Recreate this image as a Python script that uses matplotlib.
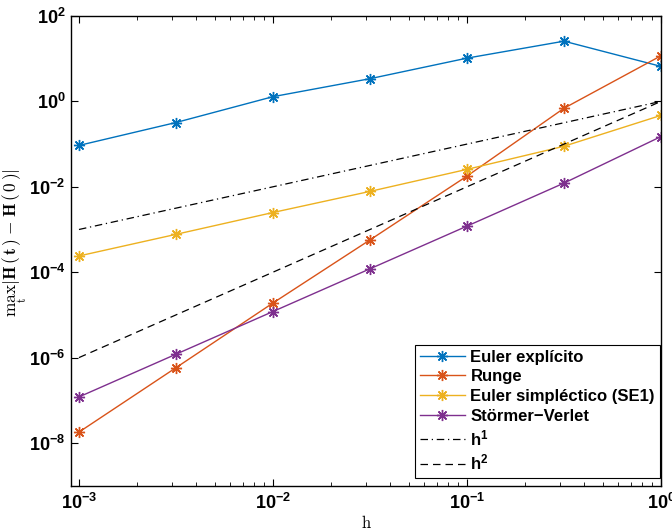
import numpy as np
import matplotlib
matplotlib.use("Agg")
import matplotlib.pyplot as plt
from matplotlib.ticker import FixedLocator, FuncFormatter, LogLocator, NullLocator

# -----------------------
# Data
# -----------------------
h = [1e-3, 10**-2.5, 1e-2, 10**-1.5, 1e-1, 10**-0.5, 1.0]

euler_exp = [0.093, 0.32, 1.29, 3.4, 10.3, 25.7, 6.6]
runge     = [1.8e-8, 5.8e-7, 1.9e-5, 5.7e-4, 0.0178, 0.69, 11.7]
euler_se1 = [2.4e-4, 7.7e-4, 2.5e-3, 7.8e-3, 0.0256, 0.089, 0.47]
stormer   = [1.2e-7, 1.2e-6, 1.2e-5, 1.2e-4, 1.2e-3, 0.0122, 0.15]

ref_h = [1e-3, 1.0]
ref_h1 = [1e-3, 1.0]
ref_h2 = [1e-6, 1.0]

labels = ["Euler explícito", "Runge", "Euler simpléctico (SE1)", "Störmer−Verlet"]
colors = ["#0072BD", "#D95319", "#EDB120", "#7E2F8E"]

x_ticks = [1e-3, 1e-2, 1e-1, 1e0]
y_ticks = [1e-8, 1e-6, 1e-4, 1e-2, 1e0, 1e2]

# -----------------------
# Style
# -----------------------
plt.rcParams["font.family"] = ["Liberation Sans", "DejaVu Sans"]
plt.rcParams["font.weight"] = "bold"
plt.rcParams["mathtext.fontset"] = "custom"
plt.rcParams["mathtext.rm"] = "Liberation Sans:bold"
plt.rcParams["mathtext.bf"] = "Liberation Sans:bold"
plt.rcParams["mathtext.it"] = "Liberation Sans:bold"

fig = plt.figure(figsize=(6.72, 5.31), dpi=100)
ax = fig.add_axes([0.1057, 0.0853, 0.8779, 0.8846])

series = [euler_exp, runge, euler_se1, stormer]
for vals, lab, col in zip(series, labels, colors):
    ax.plot(h, vals, color=col, marker=(8, 2, 0), markersize=8, markeredgewidth=1.0,
            linewidth=1.0, label=lab)

ax.plot(ref_h, ref_h1, color="black", linestyle="-.", linewidth=0.9,
        dashes=(6, 3, 1, 3), label=r"$\mathbf{h^1}$")
ax.plot(ref_h, ref_h2, color="black", linestyle="--", linewidth=0.9,
        dashes=(6, 4), label=r"$\mathbf{h^2}$")

ax.set_xscale("log")
ax.set_yscale("log")
ax.set_xlim(9.1e-4, 1.0)
ax.set_ylim(1e-9, 1e2)

def sci(v, pos):
    e = int(round(np.log10(v)))
    return r"$\mathbf{10^{%d}}$" % e

ax.xaxis.set_major_locator(FixedLocator(x_ticks))
ax.xaxis.set_minor_locator(LogLocator(base=10, subs=np.arange(2, 10)))
ax.xaxis.set_major_formatter(FuncFormatter(sci))
ax.yaxis.set_major_locator(FixedLocator(y_ticks))
ax.yaxis.set_minor_locator(NullLocator())
ax.yaxis.set_major_formatter(FuncFormatter(sci))

ax.tick_params(which="both", direction="in", top=True, right=True, labelsize=13)
ax.tick_params(which="major", length=5, width=0.8)
ax.tick_params(which="minor", length=3, width=0.6)
ax.tick_params(axis="x", pad=5)
ax.tick_params(axis="y", pad=4)
for s in ax.spines.values():
    s.set_linewidth(1.0)

ax_w = 0.8779 * 672
ax_h = 0.8846 * 531

ax.set_xlabel(r"$\mathrm{h}$", fontsize=12, math_fontfamily="cm", labelpad=1)
ax.set_ylabel(r"$\max_{\mathrm{t}}|\mathbf{H}\,(\,\mathbf{t}\,)\;-\;\mathbf{H}\,(\,0\,)|$",
              fontsize=12.5, math_fontfamily="cm", labelpad=0)
ax.yaxis.label.set_y(0.5 + 8 / ax_h)

leg = ax.legend(loc="lower right", bbox_to_anchor=(1 - 1 / ax_w, 8 / ax_h),
                fontsize=12, frameon=True, fancybox=False,
                edgecolor="black", framealpha=1, borderaxespad=0,
                handlelength=2.7, labelspacing=0.28, handletextpad=0.35,
                borderpad=0.3)
leg.get_frame().set_linewidth(0.8)

fig.savefig("out.png", dpi=100)
